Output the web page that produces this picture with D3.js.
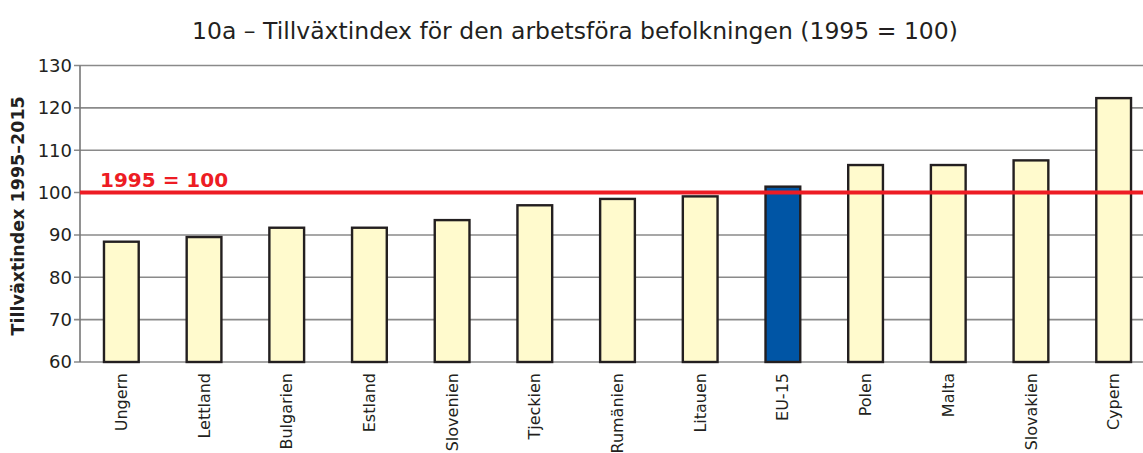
<!DOCTYPE html>
<html>
<head>
<meta charset="utf-8">
<script src="https://cdn.jsdelivr.net/npm/d3@7"></script>
<style>
  body { margin: 0; background: #fff; }
  text { font-family: "DejaVu Sans", "Noto Sans", sans-serif; }
</style>
</head>
<body>
<div id="chart"></div>
<script>
var countries = ["Ungern", "Lettland", "Bulgarien", "Estland", "Slovenien", "Tjeckien",
  "Rumänien", "Litauen", "EU-15", "Polen", "Malta", "Slovakien", "Cypern"];
var values = [88.4, 89.5, 91.7, 91.7, 93.5, 97.0, 98.5, 99.1, 101.4, 106.5, 106.5, 107.6, 122.3];
var yTicks = [60, 70, 80, 90, 100, 110, 120, 130];
var refValue = 100;

var width = 1143, height = 453;

var svg = d3.select("#chart").append("svg")
    .attr("width", width)
    .attr("height", height);

var x = d3.scaleBand()
    .domain(countries)
    .range([80, 1155])
    .paddingInner(0.58)
    .paddingOuter(0.29);

var y = d3.scaleLinear()
    .domain([60, 130])
    .range([362, 65.5]);

// title
svg.append("text")
    .attr("x", 575)
    .attr("y", 39)
    .attr("text-anchor", "middle")
    .style("font-size", "23.5px")
    .style("fill", "#231f20")
    .text("10a – Tillväxtindex för den arbetsföra befolkningen (1995 = 100)");

// grid
svg.append("g")
  .selectAll("line")
  .data(yTicks)
  .enter().append("line")
    .attr("x1", 74)
    .attr("x2", width)
    .attr("y1", function(d) { return y(d); })
    .attr("y2", function(d) { return y(d); })
    .style("stroke", "#8a8a8a")
    .style("stroke-width", 1.6);

// y axis line
svg.append("line")
    .attr("x1", 80).attr("x2", 80)
    .attr("y1", y(130)).attr("y2", y(60))
    .style("stroke", "#777")
    .style("stroke-width", 1.6);

svg.append("g")
  .selectAll("text")
  .data(yTicks)
  .enter().append("text")
    .attr("x", 72)
    .attr("y", function(d) { return y(d); })
    .attr("dy", "0.35em")
    .attr("text-anchor", "end")
    .style("font-size", "18px")
    .style("fill", "#231f20")
    .text(function(d) { return d; });

svg.append("text")
    .attr("transform", "translate(24," + y(94.5) + ") rotate(-90)")
    .attr("text-anchor", "middle")
    .style("font-size", "17.5px")
    .style("font-weight", "bold")
    .style("fill", "#231f20")
    .text("Tillväxtindex 1995–2015");

// bars
svg.append("g")
  .selectAll("rect")
  .data(values)
  .enter().append("rect")
    .attr("x", function(d, i) { return x(countries[i]); })
    .attr("y", function(d) { return y(d); })
    .attr("width", x.bandwidth())
    .attr("height", function(d) { return y(60) - y(d); })
    .style("fill", function(d, i) { return countries[i] == "EU-15" ? "#0055a5" : "#fffacd"; })
    .style("stroke", "#231f20")
    .style("stroke-width", 2.4);

// reference line
svg.append("line")
    .attr("x1", 80).attr("x2", width)
    .attr("y1", y(refValue)).attr("y2", y(refValue))
    .style("stroke", "#ed1c24")
    .style("stroke-width", 4);

svg.append("text")
    .attr("x", 100)
    .attr("y", y(refValue) - 6)
    .style("font-size", "20px")
    .style("font-weight", "bold")
    .style("fill", "#ed1c24")
    .text("1995 = 100");

// x labels
svg.append("g")
  .selectAll("text")
  .data(countries)
  .enter().append("text")
    .attr("transform", function(d) {
      return "translate(" + (x(d) + x.bandwidth() / 2) + ",373) rotate(-90)";
    })
    .attr("dy", "0.35em")
    .attr("text-anchor", "end")
    .style("font-size", "16px")
    .style("fill", "#231f20")
    .text(function(d) { return d; });
</script>
</body>
</html>
